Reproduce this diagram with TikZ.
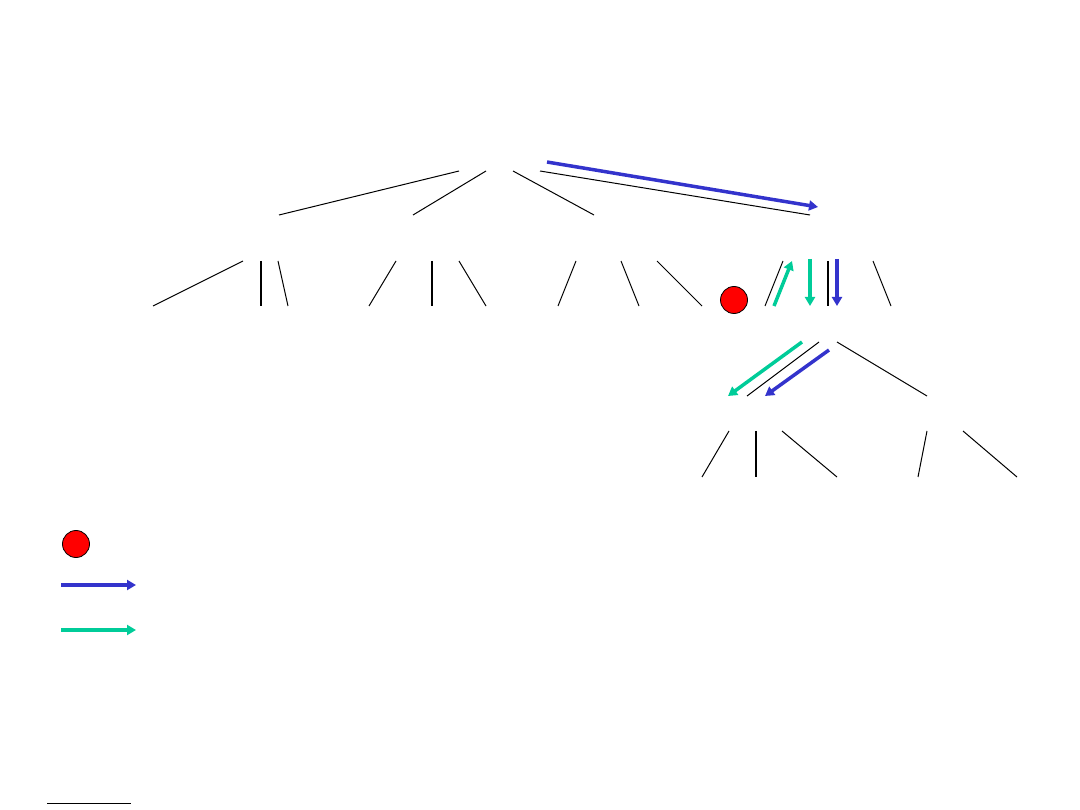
\documentclass[tikz,border=0pt]{standalone}
\usetikzlibrary{arrows.meta}
\definecolor{pathblue}{RGB}{51,51,204}
\definecolor{pathgreen}{RGB}{0,204,153}
\tikzset {
    tree edge/.style = {line width = 1pt},
    bold edge/.style = {line width = 2pt},
    walk/.style = {line width = 3.5pt, -{Triangle[length = 9pt, width = 10pt]}},
    blue walk/.style = {walk, pathblue},
    green walk/.style = {walk, pathgreen},
    marker/.style = {circle, draw, fill = red, line width = 0.8pt, minimum size = 27pt, inner sep = 0pt}
}
\begin{document}
\begin{tikzpicture}[x = 1pt, y = -1pt]
    \useasboundingbox (0, 0) rectangle (1080, 810);
    % thin edges of the tree
    \foreach \n/\xa/\ya/\xb/\yb in {
        r1/459/171/279/215, r2/486/171/413/215,
        r3/513/171/594/215, r4/540/171/810/215,
        a1/243/261/153/306, a3/278/261/288/306,
        b1/396/261/369/306, b3/459/261/486/306,
        c1/576/261/558/306, c2/621/261/639/306,
        c3/657/261/702/306,
        d1/783/261/765/306, d5/873/261/891/306,
        e1/819/342/747/396, e2/837/342/927/396,
        f1/729/431/702/477, f3/782/431/837/477,
        g1/927/431/918/477, g2/963/431/1017/477
    } {
        \coordinate (\n-top) at (\xa, \ya);
        \coordinate (\n-low) at (\xb, \yb);
        \draw [tree edge] (\n-top) -- (\n-low);
    }
    % bold middle edges
    \foreach \n/\x/\t/\e in {a2/261/261/306, b2/432/261/306, d3/828/261/306, f2/756/431/477} {
        \coordinate (\n-top) at (\x, \t);
        \coordinate (\n-low) at (\x, \e);
        \draw [bold edge] (\n-top) -- (\n-low);
    }
    % the walk through the tree
    \coordinate (w1) at (547, 162);
    \coordinate (w2) at (818, 207);
    \draw [blue walk] (w1) -- (w2);
    \coordinate (u1) at (774, 306);
    \coordinate (u2) at (792, 261);
    \draw [green walk] (u1) -- (u2);
    \coordinate (v1) at (810, 259);
    \coordinate (v2) at (810, 306);
    \draw [green walk] (v1) -- (v2);
    \coordinate (s1) at (837, 259);
    \coordinate (s2) at (837, 306);
    \draw [blue walk] (s1) -- (s2);
    \coordinate (t1) at (802, 342);
    \coordinate (t2) at (728, 396);
    \draw [green walk] (t1) -- (t2);
    \coordinate (k1) at (829, 350);
    \coordinate (k2) at (765, 396);
    \draw [blue walk] (k1) -- (k2);
    \node (hit) [marker] at (734, 300) {};
    % legend
    \node (key dot) [marker] at (76, 544) {};
    \coordinate (kb1) at (61, 585);
    \coordinate (kb2) at (136, 585);
    \draw [blue walk] (kb1) -- (kb2);
    \coordinate (kg1) at (61, 630);
    \coordinate (kg2) at (136, 630);
    \draw [green walk] (kg1) -- (kg2);
    \coordinate (rule1) at (47, 803);
    \coordinate (rule2) at (131, 803);
    \draw [tree edge] (rule1) -- (rule2);
\end{tikzpicture}
\end{document}
